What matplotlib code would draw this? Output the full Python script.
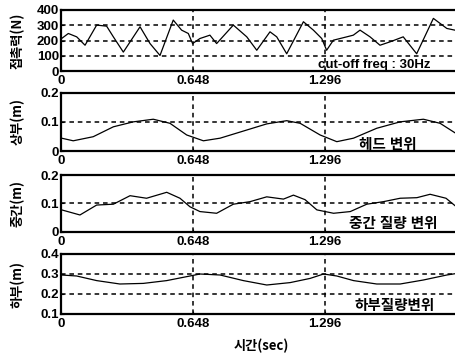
import matplotlib
matplotlib.use("Agg")
import matplotlib.pyplot as plt

plt.rcParams['font.family'] = ['Liberation Sans', 'Noto Sans CJK KR', 'DejaVu Sans']

# ---- data ----
xticks = [0, 0.648, 1.296]
xticklabels = ['0', '0.648', '1.296']
xmax = 1.944

t_force = [0.003, 0.036, 0.077, 0.118, 0.175, 0.224, 0.257, 0.306, 0.388, 0.437, 0.486,
           0.551, 0.592, 0.625, 0.646, 0.682, 0.731, 0.764, 0.846, 0.912, 0.961, 1.026,
           1.059, 1.108, 1.190, 1.239, 1.280, 1.304, 1.337, 1.403, 1.435, 1.468, 1.517,
           1.566, 1.615, 1.680, 1.746, 1.828, 1.894, 1.944]
force = [213, 246, 224, 169, 301, 294, 224, 124, 290, 180, 102,
         334, 268, 246, 180, 213, 235, 180, 301, 224, 136, 257,
         224, 113, 323, 268, 213, 136, 202, 224, 235, 268, 224,
         169, 191, 224, 113, 345, 279, 265]

t_head = [0.003, 0.060, 0.158, 0.257, 0.355, 0.453, 0.535, 0.617, 0.699, 0.781, 0.912,
          1.010, 1.108, 1.174, 1.272, 1.354, 1.436, 1.550, 1.665, 1.779, 1.861, 1.944]
head = [0.044, 0.035, 0.049, 0.083, 0.100, 0.109, 0.095, 0.055, 0.035, 0.044, 0.072,
        0.093, 0.104, 0.095, 0.055, 0.032, 0.044, 0.078, 0.100, 0.109, 0.095, 0.058]

t_mid = [0.003, 0.093, 0.175, 0.257, 0.339, 0.420, 0.519, 0.584, 0.633, 0.682, 0.764,
         0.846, 0.928, 1.010, 1.092, 1.141, 1.198, 1.256, 1.338, 1.420, 1.501, 1.583,
         1.665, 1.747, 1.812, 1.890, 1.944]
mid = [0.077, 0.059, 0.094, 0.097, 0.127, 0.118, 0.139, 0.118, 0.088, 0.071, 0.065,
       0.097, 0.106, 0.123, 0.115, 0.129, 0.113, 0.077, 0.065, 0.071, 0.097, 0.106,
       0.118, 0.120, 0.132, 0.118, 0.086]

t_low = [0.003, 0.077, 0.175, 0.289, 0.404, 0.519, 0.633, 0.682, 0.781, 0.895, 1.010,
         1.125, 1.223, 1.289, 1.354, 1.436, 1.550, 1.665, 1.779, 1.894, 1.944]
low = [0.295, 0.290, 0.267, 0.250, 0.253, 0.267, 0.290, 0.300, 0.295, 0.267, 0.245,
       0.257, 0.278, 0.300, 0.290, 0.267, 0.250, 0.250, 0.270, 0.295, 0.303]

panels = [
    dict(t=t_force, y=force, ylim=(0, 400), yticks=[0, 100, 200, 300, 400],
         yticklabels=['0', '100', '200', '300', '400'], ygrid=[100, 200, 300],
         ylabel='접촉력(N)', note='cut-off freq : 30Hz', note_xy=(1.54, 42), note_fs=9.5),
    dict(t=t_head, y=head, ylim=(0, 0.2), yticks=[0, 0.1, 0.2],
         yticklabels=['0', '0.1', '0.2'], ygrid=[0.1],
         ylabel='상부(m)', note='헤드 변위', note_xy=(1.605, 0.021), note_fs=10.5),
    dict(t=t_mid, y=mid, ylim=(0, 0.2), yticks=[0, 0.1, 0.2],
         yticklabels=['0', '0.1', '0.2'], ygrid=[0.1],
         ylabel='중간(m)', note='중간 질량 변위', note_xy=(1.63, 0.027), note_fs=10.5),
    dict(t=t_low, y=low, ylim=(0.1, 0.4), yticks=[0.1, 0.2, 0.3, 0.4],
         yticklabels=['0.1', '0.2', '0.3', '0.4'], ygrid=[0.2, 0.3],
         ylabel='하부(m)', note='하부질량변위', note_xy=(1.64, 0.14), note_fs=10.5),
]

W, H = 455, 353
fig = plt.figure(figsize=(W / 100, H / 100), dpi=100)

boxes = [(10, 71), (92.7, 151), (175, 231.7), (254, 314)]
left_px, right_px = 61, 457

for p, (top, bot) in zip(panels, boxes):
    ax = fig.add_axes([left_px / W, (H - bot) / H, (right_px - left_px) / W, (bot - top) / H])
    ax.plot(p['t'], p['y'], color='black', lw=0.9)
    ax.set_xlim(0, xmax)
    ax.set_ylim(*p['ylim'])
    ax.set_xticks(xticks)
    ax.set_xticklabels(xticklabels)
    ax.set_yticks(p['yticks'])
    ax.set_yticklabels(p['yticklabels'])
    for g in p['ygrid']:
        ax.axhline(g, color='black', lw=1.1, ls=(0, (3, 2.5)), zorder=1)
    for g in xticks[1:]:
        ax.axvline(g, color='black', lw=1.1, ls=(0, (3, 2.5)), zorder=1)
    for s in ['left', 'bottom', 'top']:
        ax.spines[s].set_linewidth(1.6)
    ax.spines['right'].set_visible(False)
    ax.tick_params(direction='in', length=2, width=0.8, labelsize=9.5)
    ax.tick_params(axis='x', pad=3)
    ax.tick_params(axis='y', pad=1.5)
    for lab in ax.get_xticklabels() + ax.get_yticklabels():
        lab.set_fontweight('bold')
    ax.set_ylabel(p['ylabel'], fontsize=9.5, fontweight='bold',
                  family=['Noto Sans CJK KR', 'DejaVu Sans'])
    ax.yaxis.set_label_coords(-0.092, 0.5)
    ax.text(p['note_xy'][0], p['note_xy'][1], p['note'], fontsize=p['note_fs'],
            fontweight='bold', ha='center', va='center',
            family=['Liberation Sans', 'Noto Sans CJK KR'], zorder=3)
    last = ax

last.set_xlabel('시간(sec)', fontsize=9.5, fontweight='bold',
                family=['Noto Sans CJK KR', 'DejaVu Sans'])
last.xaxis.set_label_coords((261 - left_px) / (right_px - left_px), -0.42)

fig.savefig('out.png', dpi=100)
